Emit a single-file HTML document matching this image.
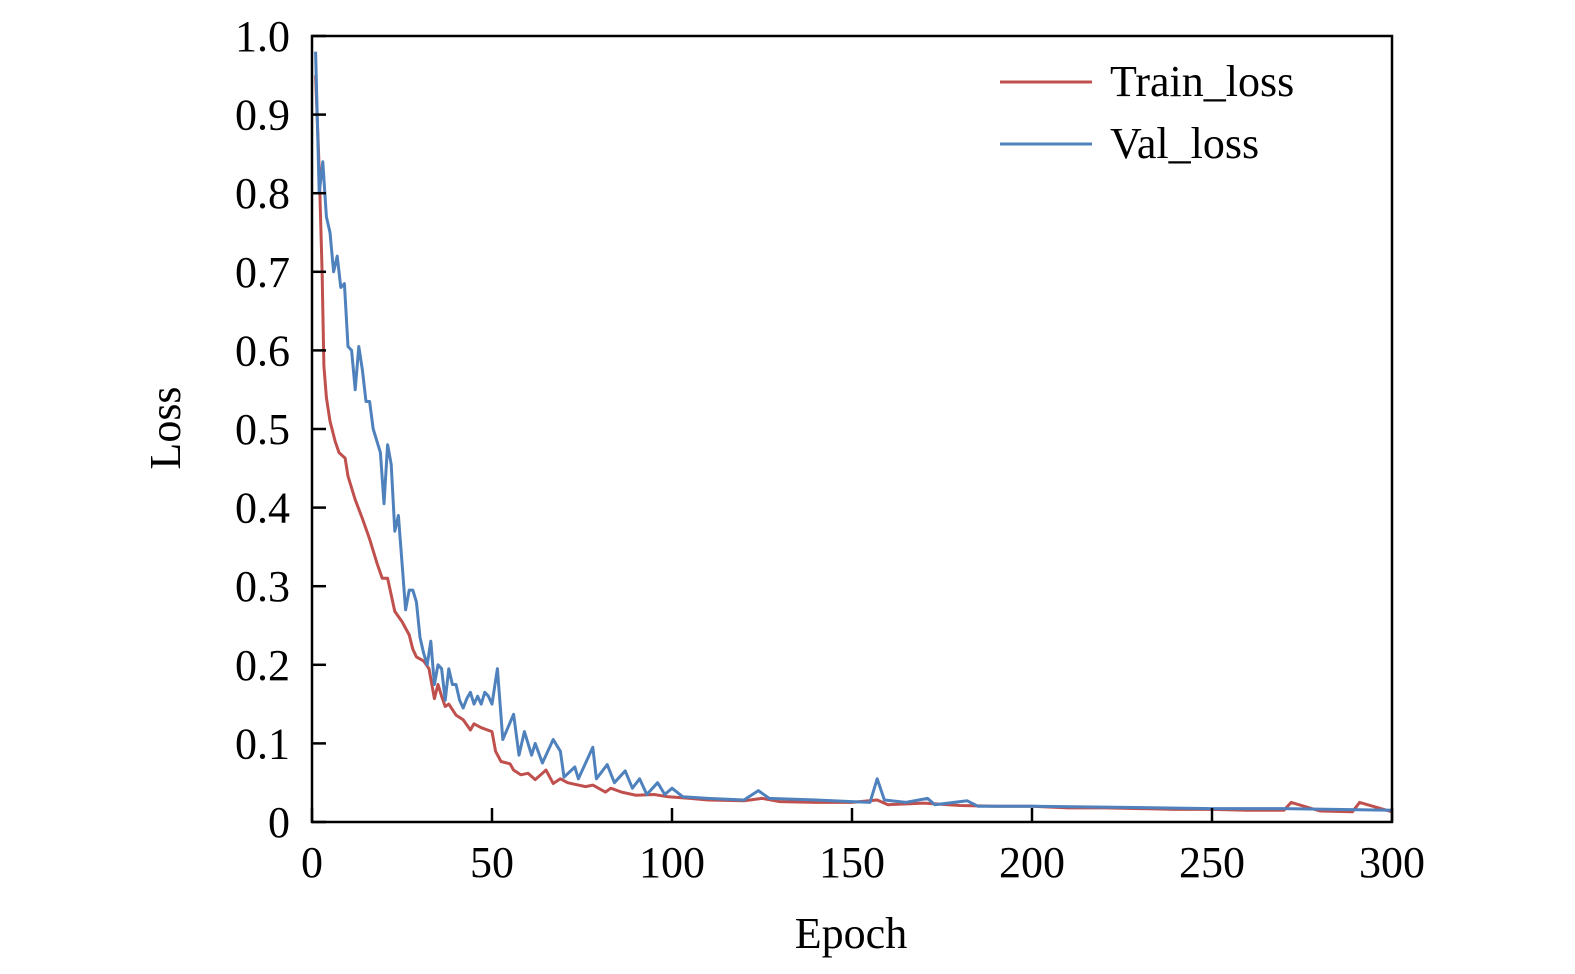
<!DOCTYPE html>
<html><head><meta charset="utf-8"><style>
html,body{margin:0;padding:0;background:#fff;overflow:hidden;width:1575px;height:974px;}
svg{display:block;}
svg text{font-family:"Liberation Serif",serif;fill:#000;}
</style></head><body>
<svg id="chart" width="1575" height="974" viewBox="0 0 1575 974" xmlns="http://www.w3.org/2000/svg">
<g id="plot"></g>
<g id="axes"></g>
<g>
<line x1="1000" y1="82" x2="1092" y2="82" stroke="#c0504d" stroke-width="3"/>
<text x="1110" y="96" font-size="44">Train_loss</text>
<line x1="1000" y1="144" x2="1092" y2="144" stroke="#4f81bd" stroke-width="3"/>
<text x="1110" y="158" font-size="44">Val_loss</text>
</g>
<text x="851" y="948" font-size="44" text-anchor="middle">Epoch</text>
<text x="0" y="0" font-size="44" text-anchor="middle" transform="translate(180,428) rotate(-90)">Loss</text>
</svg>
<script>
const xTicks=[0,50,100,150,200,250,300];
const yTicks=[0,0.1,0.2,0.3,0.4,0.5,0.6,0.7,0.8,0.9,1.0];
const yTickLabels=["0","0.1","0.2","0.3","0.4","0.5","0.6","0.7","0.8","0.9","1.0"];
const trainEpochs=[1,2,2.8,3.3,4,5,6.4,7.5,9.2,10,11,12,14,16,17,18,19.5,21,23,25,27,28,29,31,32.5,34,35,36,37,38,40,42,44,45,47,50,51,52.5,55,56,58,60,62,65,67,69,71,73,76,78,81.5,83,86,90,95,99,105,110,120,125,130,140,150,157,160,170,180,190,200,210,220,230,240,250,260,270,272,280,289,291,300];
const trainLoss=[0.95,0.83,0.70,0.58,0.54,0.51,0.485,0.47,0.463,0.44,0.425,0.41,0.386,0.36,0.345,0.33,0.31,0.31,0.268,0.255,0.238,0.22,0.21,0.205,0.195,0.157,0.175,0.16,0.147,0.15,0.136,0.13,0.117,0.125,0.12,0.115,0.09,0.077,0.074,0.066,0.06,0.062,0.054,0.066,0.049,0.055,0.05,0.048,0.045,0.047,0.038,0.043,0.038,0.034,0.035,0.032,0.03,0.028,0.027,0.03,0.026,0.025,0.025,0.028,0.022,0.024,0.021,0.02,0.02,0.018,0.018,0.017,0.016,0.016,0.015,0.015,0.025,0.014,0.013,0.025,0.013,0.013];
const valEpochs=[1,2,3,4,5,6,7,8,9,10,11,12,13,14,15,16,17,18,19,20,21,22,23,24,25,26,27,28,29,30,31,32,33,34,35,36,37,38,39,40,41,42,43,44,45,46,47,48,49,50,51.5,53,56,57.5,59,61,62,64,67,69,70,73,74,78,79,82,84,87,89,91,93,96,98,100,103,110,120,124,127,140,150,155,157,159,165,171,173,182,185,200,220,250,270,300];
const valLoss=[0.98,0.80,0.84,0.77,0.75,0.70,0.72,0.68,0.685,0.605,0.60,0.55,0.605,0.575,0.535,0.535,0.50,0.485,0.47,0.405,0.48,0.455,0.37,0.39,0.33,0.27,0.295,0.295,0.28,0.235,0.215,0.20,0.23,0.175,0.20,0.195,0.155,0.195,0.175,0.175,0.155,0.145,0.157,0.165,0.15,0.16,0.15,0.165,0.16,0.15,0.195,0.105,0.137,0.085,0.115,0.085,0.10,0.075,0.105,0.09,0.057,0.07,0.055,0.095,0.055,0.073,0.05,0.065,0.043,0.055,0.035,0.05,0.035,0.043,0.032,0.03,0.028,0.04,0.03,0.028,0.026,0.025,0.055,0.028,0.025,0.03,0.022,0.027,0.02,0.02,0.019,0.017,0.017,0.015];
const X0=312,X1=1392,Y0=822,Y1=36;
function sx(v){return X0+(v-0)/(300-0)*(X1-X0);}
function sy(v){return Y0-(v-0)/(1-0)*(Y0-Y1);}
const NS="http://www.w3.org/2000/svg";
const plot=document.getElementById('plot'),axes=document.getElementById('axes');
function line(ep,vals,color,name){
  const p=document.createElementNS(NS,'polyline');
  p.setAttribute('points',ep.map((e,i)=>sx(e).toFixed(1)+','+sy(vals[i]).toFixed(1)).join(' '));
  p.setAttribute('fill','none');p.setAttribute('stroke',color);p.setAttribute('stroke-width','3');
  p.setAttribute('stroke-linejoin','round');
  
  
  plot.appendChild(p);
}
line(trainEpochs,trainLoss,'#c0504d','train-loss-line');
line(valEpochs,valLoss,'#4f81bd','val-loss-line');
const frame=document.createElementNS(NS,'rect');
frame.setAttribute('x',X0);frame.setAttribute('y',Y1);frame.setAttribute('width',X1-X0);frame.setAttribute('height',Y0-Y1);
frame.setAttribute('fill','none');frame.setAttribute('stroke','#000');frame.setAttribute('stroke-width','2.5');


axes.appendChild(frame);
xTicks.forEach(t=>{
  const l=document.createElementNS(NS,'line');
  l.setAttribute('x1',sx(t));l.setAttribute('x2',sx(t));l.setAttribute('y1',Y0);l.setAttribute('y2',Y0-14);
  l.setAttribute('stroke','#000');l.setAttribute('stroke-width','2.5');
  
  
  axes.appendChild(l);
  const tx=document.createElementNS(NS,'text');
  tx.setAttribute('x',sx(t));tx.setAttribute('y',877);tx.setAttribute('font-size','44');tx.setAttribute('text-anchor','middle');
  tx.textContent=String(t);
  
  
  axes.appendChild(tx);
});
yTicks.forEach((t,i)=>{
  const l=document.createElementNS(NS,'line');
  l.setAttribute('x1',X0);l.setAttribute('x2',X0+14);l.setAttribute('y1',sy(t));l.setAttribute('y2',sy(t));
  l.setAttribute('stroke','#000');l.setAttribute('stroke-width','2.5');
  
  
  axes.appendChild(l);
  const tx=document.createElementNS(NS,'text');
  tx.setAttribute('x',290);tx.setAttribute('y',sy(t)+15);tx.setAttribute('font-size','44');tx.setAttribute('text-anchor','end');
  tx.textContent=yTickLabels[i];
  
  
  axes.appendChild(tx);
});
</script>
</body></html>
